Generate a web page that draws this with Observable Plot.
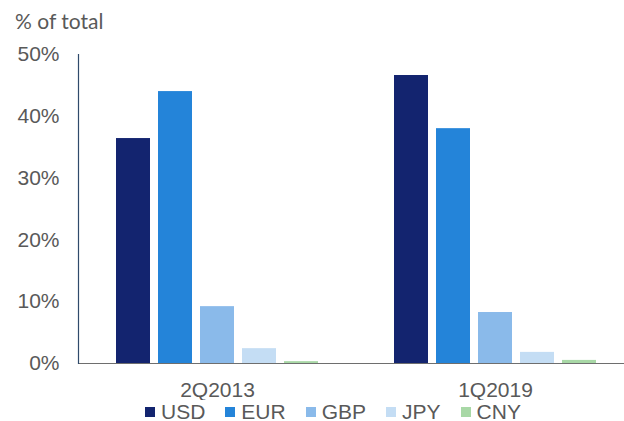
<!DOCTYPE html>
<html>
<head>
<meta charset="utf-8">
<script src="https://cdn.jsdelivr.net/npm/d3@7"></script>
<script src="https://cdn.jsdelivr.net/npm/@observablehq/plot@0.6"></script>
<style>
  body { margin: 0; background: #fff; width: 624px; height: 421px; overflow: hidden; position: relative; font-family: "Liberation Sans", Arial, sans-serif; }
  #title { position: absolute; left: 15px; top: 9px; font: 21px Lato, sans-serif; color: #595959; line-height: 24px; }
  #chart { position: absolute; left: 0; top: 40px; }
  #legend { position: absolute; left: 145px; top: 403px; display: flex; align-items: center; gap: 20px; font-size: 21px; color: #595959; line-height: 18px; height: 18px; }
  #legend .item { display: flex; align-items: center; }
  #legend .sw { width: 10px; height: 10px; margin-right: 6px; }
</style>
</head>
<body>
<div id="title">% of total</div>
<div id="chart"></div>
<div id="legend"></div>
<script>
const periods = ["2Q2013", "1Q2019"];
const currencies = ["USD", "EUR", "GBP", "JPY", "CNY"];
const share2Q2013 = [36.4, 44.0, 9.2, 2.4, 0.3];
const share1Q2019 = [46.6, 38.0, 8.25, 1.8, 0.5];
const colors = ["#13246f", "#2484d9", "#8abaea", "#c4ddf4", "#a8d8a6"];
const yTicks = [0, 10, 20, 30, 40, 50];

const seriesByPeriod = [share2Q2013, share1Q2019];
const data = periods.flatMap((p, i) =>
  currencies.map((c, j) => ({ period: p, currency: c, share: seriesByPeriod[i][j] }))
);

const chart = Plot.plot({
  width: 624,
  height: 360,
  marginTop: 14,
  marginLeft: 78,
  marginRight: -10,
  marginBottom: 37,
  style: { fontFamily: "'Liberation Sans', Arial, sans-serif", color: "#595959", background: "transparent" },
  fx: { domain: periods, padding: 0, label: null, axis: null },
  x: { domain: currencies, paddingInner: 0.2, paddingOuter: 0.86, axis: null },
  y: { domain: [0, 50], axis: null },
  color: { domain: currencies, range: colors },
  marks: [
    Plot.barY(data, { fx: "period", x: "currency", y: "share", fill: "currency" }),
    Plot.ruleY([0], { stroke: "#6e6e6e", strokeWidth: 1.2 }),
    Plot.frame({ anchor: "left", facetAnchor: "left", stroke: "#2f4a6b", strokeWidth: 1.2 }),
    Plot.axisY({ ticks: yTicks, tickFormat: d => d + "%", tickSize: 0, tickPadding: 19, fontSize: 21, fill: "#595959", label: null, fontFamily: "'Liberation Sans', Arial, sans-serif" }),
    Plot.axisFx({ anchor: "bottom", tickSize: 0, tickPadding: 19, fontSize: 21, fill: "#595959", label: null, fontFamily: "'Liberation Sans', Arial, sans-serif" })
  ]
});
document.getElementById("chart").appendChild(chart);

const legend = document.getElementById("legend");
currencies.forEach((c, i) => {
  const item = document.createElement("div");
  item.className = "item";
  const sw = document.createElement("span");
  sw.className = "sw";
  sw.style.background = colors[i];
  const t = document.createElement("span");
  t.textContent = c;
  item.appendChild(sw);
  item.appendChild(t);
  legend.appendChild(item);
});
</script>
</body>
</html>
